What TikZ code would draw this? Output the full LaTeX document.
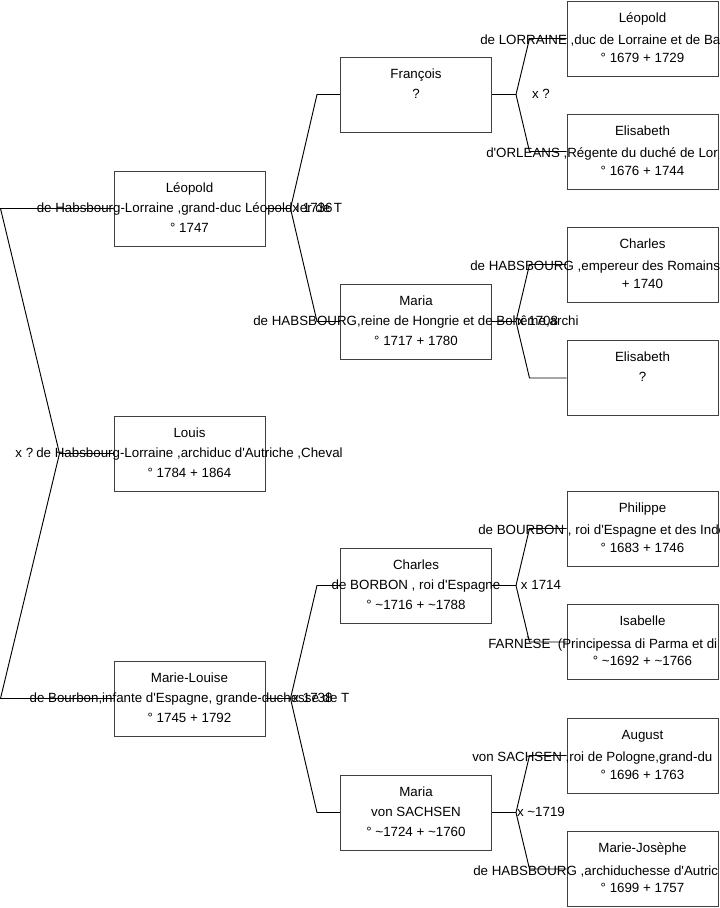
\documentclass[tikz,border=0pt]{standalone}
\usepackage{fontspec}
\setmainfont{Liberation Sans}
\newfontfamily\treefont{Liberation Sans}
\usetikzlibrary{calc}

\begin{document}
\begin{tikzpicture}[
  x=0.75pt, y=-0.75pt,
  person/.style={rectangle, draw=black!75, line width=0.75pt, minimum width=113.25pt, minimum height=56.25pt, inner sep=0pt},
  txt/.style={font=\treefont\fontsize{10}{15}\selectfont, align=center, inner sep=0pt, yshift=-1.5pt, execute at begin node=\strut, execute at end node=\strut},
  wide/.style={font=\treefont\fontsize{10}{15}\selectfont, anchor=west, inner sep=0pt, yshift=-1.5pt, text height=10.5pt, text depth=4.5pt},
  wedlabel/.style={font=\treefont\fontsize{10}{15}\selectfont, inner sep=0pt},
  link/.style={draw=black, line width=0.7pt}
]
\useasboundingbox (0,0) rectangle (719,908);
\clip (0,0) rectangle (719,908);

% First generation
\node[person] (leo) at (189.5,208.5) {};
\node[txt] (leo-t) at (leo.center) {Léopold\\de Habsbourg-Lorraine ,grand-duc Léopold Ier de T\\° 1747};
\node[person] (lou) at (189.5,453.5) {};
\node[txt] (lou-t) at (lou.center) {Louis\\de Habsbourg-Lorraine ,archiduc d'Autriche ,Cheval\\° 1784 + 1864};
\node[person] (mlo) at (189.5,698.5) {};
\node[txt] (mlo-t) at (mlo.center) {Marie-Louise\\de Bourbon,infante d'Espagne, grande-duchesse de T\\° 1745 + 1792};

% Second generation
\node[person] (fra) at (416,94.5) {};
\node[txt] (fra-t) at (fra.center) {François\\?\\};
\node[person] (mar) at (416,321.5) {};
\node[txt] (mar-t) at (mar.center) {Maria\\de HABSBOURG,reine de Hongrie et de Bohême,archi\\° 1717 + 1780};
\node[person] (cha) at (416,585.5) {};
\node[txt] (cha-t) at (cha.center) {Charles\\de BORBON , roi d'Espagne\\° \textasciitilde1716 + \textasciitilde1788};
\node[person] (mas) at (416,812.5) {};
\node[txt] (mas-t) at (mas.center) {Maria\\von SACHSEN\\° \textasciitilde1724 + \textasciitilde1760};

% Third generation
\node[person] (gleo) at (642.5,38.5) {};
\node[txt] (gleo-t) at (gleo.center) {Léopold\\\strut\\° 1679 + 1729};
\node[wide] (gleo-w) at (480,38.5) {de LORRAINE ,duc de Lorraine et de Ba};
\node[person] (geli) at (642.5,151.5) {};
\node[txt] (geli-t) at (geli.center) {Elisabeth\\\strut\\° 1676 + 1744};
\node[wide] (geli-w) at (486,151.5) {d'ORLEANS ,Régente du duché de Lor};
\node[person] (gcha) at (642.5,264.5) {};
\node[txt] (gcha-t) at (gcha.center) {Charles\\\strut\\+ 1740};
\node[wide] (gcha-w) at (470,264.5) {de HABSBOURG ,empereur des Romains};
\node[person] (geli2) at (642.5,378) {};
\node[txt] (geli2-t) at (geli2.center) {Elisabeth\\?\\};
\node[person] (phi) at (642.5,528.5) {};
\node[txt] (phi-t) at (phi.center) {Philippe\\\strut\\° 1683 + 1746};
\node[wide] (phi-w) at (478,528.5) {de BOURBON , roi d'Espagne et des Inde};
\node[person] (isa) at (642.5,642) {};
\node[txt] (isa-t) at (isa.center) {Isabelle\\\strut\\° \textasciitilde1692 + \textasciitilde1766};
\node[wide] (isa-w) at (488,642) {FARNÈSE\ \ (Principessa di Parma et di};
\node[person] (aug) at (642.5,755.5) {};
\node[txt] (aug-t) at (aug.center) {August\\\strut\\° 1696 + 1763};
\node[wide] (aug-w) at (472,755.5) {von SACHSEN ,roi de Pologne,grand-du};
\node[person] (mjo) at (642.5,869) {};
\node[txt] (mjo-t) at (mjo.center) {Marie-Josèphe\\\strut\\° 1699 + 1757};
\node[wide] (mjo-w) at (473,869) {de HABSBOURG ,archiduchesse d'Autric};

% Louis
\draw[link] (lou.west) -- ++(-54,0) coordinate (vlou);
\draw[link] (leo.west) -- ++(-113,0) -- (vlou) -- ($(mlo.west)+(-113,0)$) -- (mlo.west);
\node[wedlabel, anchor=east] (xlou) at ($(vlou)+(-26,-1)$) {x ?};

% Léopold
\draw[link] (leo.east) -- ++(25,0) coordinate (vleo);
\draw[link] (fra.west) -- ++(-23,0) -- (vleo) -- ($(mar.west)+(-23,0)$) -- (mar.west);
\node[wedlabel] (xleo) at ($(vleo)+(22,-1)$) {x 1736};

% Marie-Louise
\draw[link] (mlo.east) -- ++(25,0) coordinate (vmlo);
\draw[link] (cha.west) -- ++(-23,0) -- (vmlo) -- ($(mas.west)+(-23,0)$) -- (mas.west);
\node[wedlabel] (xmlo) at ($(vmlo)+(22,-1)$) {x 1738};

% François
\draw[link] (fra.east) -- ++(24,0) coordinate (vfra);
\draw[link] (gleo.west) -- ++(-37,0) -- (vfra) -- ($(geli.west)+(-37,0)$) -- (geli.west);
\node[wedlabel] (xfra) at ($(vfra)+(25,-1)$) {x ?};

% Maria
\draw[link] (mar.east) -- ++(24,0) coordinate (vmar);
\draw[link] (gcha.west) -- ++(-37,0) -- (vmar) -- ($(geli2.west)+(-37,0)$) -- (geli2.west);
\node[wedlabel] (xmar) at ($(vmar)+(22,-1)$) {x 1708};

% Charles
\draw[link] (cha.east) -- ++(24,0) coordinate (vcha);
\draw[link] (phi.west) -- ++(-37,0) -- (vcha) -- ($(isa.west)+(-37,0)$) -- (isa.west);
\node[wedlabel] (xcha) at ($(vcha)+(25,-1)$) {x 1714};

% Maria von Sachsen
\draw[link] (mas.east) -- ++(24,0) coordinate (vmas);
\draw[link] (aug.west) -- ++(-37,0) -- (vmas) -- ($(mjo.west)+(-37,0)$) -- (mjo.west);
\node[wedlabel] (xmas) at ($(vmas)+(25,-1)$) {x \textasciitilde1719};

\end{tikzpicture}
\end{document}
